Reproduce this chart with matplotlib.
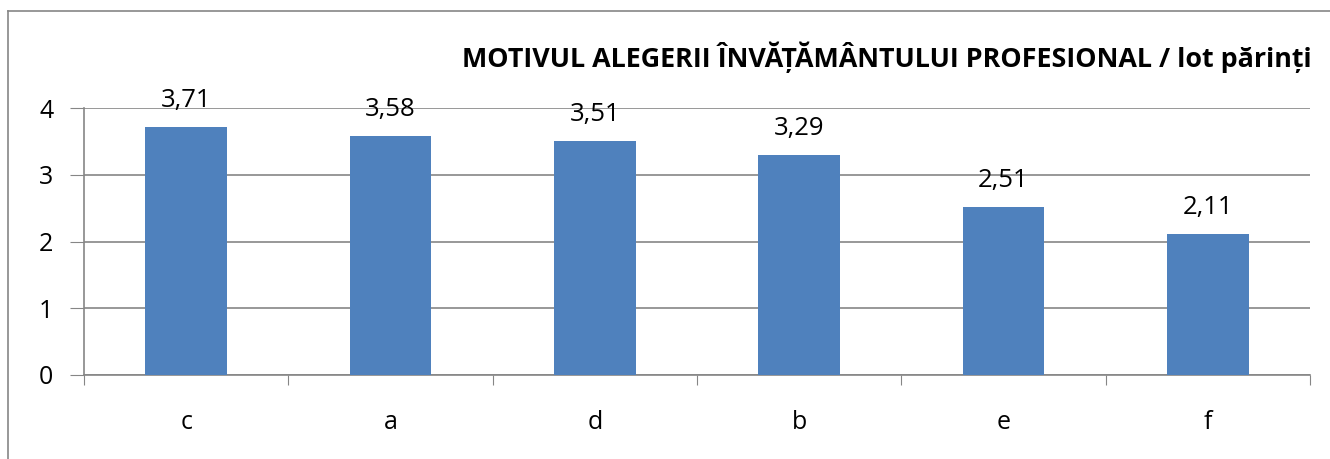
import matplotlib.pyplot as plt
from matplotlib.lines import Line2D

categories = ['c', 'a', 'd', 'b', 'e', 'f']
values = [3.71, 3.58, 3.51, 3.29, 2.51, 2.11]
value_labels = ['3,71', '3,58', '3,51', '3,29', '2,51', '2,11']
y_ticks = [0, 1, 2, 3, 4]

plt.rcParams['font.family'] = ['Open Sans', 'DejaVu Sans']
grey = '#868686'

fig = plt.figure(figsize=(13.3, 4.59), dpi=100)
# chart border (only left and top edges are visible in the original)
fig.lines.append(Line2D([8 / 1330, 8 / 1330], [0, 1 - 11 / 459], transform=fig.transFigure,
                        color=grey, linewidth=1.2))
fig.lines.append(Line2D([8 / 1330, 1], [1 - 11 / 459, 1 - 11 / 459], transform=fig.transFigure,
                        color=grey, linewidth=1.2))
ax = fig.add_axes([84 / 1330, 1 - 375 / 459, (1310 - 84) / 1330, (375 - 108) / 459])

x = list(range(len(categories)))
ax.bar(x, values, width=0.4, color='#4F81BD', zorder=3)
for xi, v, lab in zip(x, values, value_labels):
    ax.annotate(lab, (xi, v), xytext=(0, 14.5), textcoords='offset points',
                ha='center', va='baseline', fontsize=18.5)

ax.set_xlim(-0.5, len(categories) - 0.5)
ax.set_ylim(0, 4)
ax.set_yticks(y_ticks)
ax.set_yticklabels([str(t) for t in y_ticks], fontsize=18)
ax.set_xticks([i - 0.5 for i in range(len(categories) + 1)])
ax.set_xticklabels([])
ax.set_xticks(x, minor=True)
ax.set_xticklabels(categories, minor=True, fontsize=18)
ax.tick_params(axis='x', which='minor', length=0, pad=25)
ax.tick_params(axis='x', which='major', length=7, color=grey, direction='out')
ax.tick_params(axis='y', length=10, color=grey, direction='out', pad=12)

ax.grid(axis='y', color=grey, linewidth=1.2, zorder=0)
for s in ['top', 'right']:
    ax.spines[s].set_visible(False)
for s in ['left', 'bottom']:
    ax.spines[s].set_color(grey)
    ax.spines[s].set_linewidth(1.2)

fig.text(1312 / 1330, 1 - 57 / 459, 'MOTIVUL ALEGERII ÎNVĂȚĂMÂNTULUI PROFESIONAL / lot părinți',
         ha='right', va='center', fontsize=19.4, fontweight='bold')

fig.savefig('out.png', dpi=100)
